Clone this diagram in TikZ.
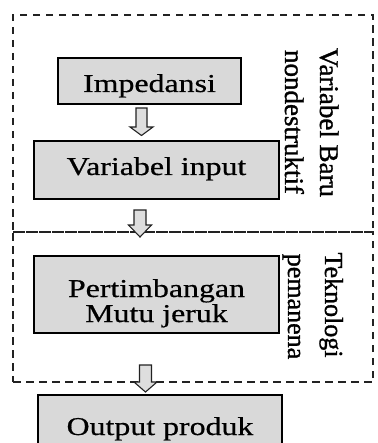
\documentclass[tikz,border=0pt]{standalone}
\usepackage{fontspec}
\setmainfont{Liberation Serif}
\newfontfamily\boxfont[FakeBold=0.5]{Liberation Serif}
\newfontfamily\labfont[FakeBold=1.2]{Liberation Serif}
\usepackage{graphicx}
\definecolor{boxgray}{HTML}{D9D9D9}
\definecolor{arrgray}{HTML}{DEDEDE}
\definecolor{linegray}{HTML}{222222}
\newcommand{\htext}[2]{\raisebox{-#1pt}[0pt][0pt]{\scalebox{1.24}[1]{#2}}}
\tikzset{
  box/.style={draw=black, line width=1.2pt, fill=boxgray, inner sep=0pt,
    font=\boxfont\fontsize{25.7pt}{24pt}\selectfont},
  group/.style={draw=linegray, line width=1.6pt, dash pattern=on 7.5pt off 5.5pt,
    inner sep=0pt},
  vlabel/.style={rotate=-90, anchor=base, inner sep=0pt},
  arrowst/.style={draw=linegray, line width=1.1pt, fill=arrgray, line join=miter},
  pics/blockarr/.style n args={4}{code={
    \draw[arrowst] (-#1,0) -- (#1,0) -- (#1,#3) -- (#2,#3) -- (0,#4)
      -- (-#2,#3) -- (-#1,#3) -- cycle;}}
}
\begin{document}
\begin{tikzpicture}[x=1pt, y=-1pt]
  \clip (0,0) rectangle (377,443);
  % dashed groups
  \node[group, minimum width=360pt, minimum height=217pt] (g1) at (193,123.5) {};
  \node[group, minimum width=360pt, minimum height=150pt] (g2) at (193,307) {};
  % boxes
  \node[box, minimum width=183pt, minimum height=46pt] (imp) at (149.5,81)
    {\htext{11}{Impedansi}};
  \node[box, minimum width=245pt, minimum height=58pt] (var) at (156.5,170)
    {\htext{5}{Variabel input}};
  \node[box, minimum width=245pt, minimum height=77pt] (mutu) at (156.5,294.5)
    {\htext{2.5}{\begin{tabular}[t]{@{}c@{}}Pertimbangan\\Mutu jeruk\end{tabular}}};
  \node[box, minimum width=244pt, minimum height=70pt] (out) at (160,430)
    {\htext{5}{Output produk}};
  % arrows
  \pic (a1) at (141.5,108) {blockarr={5.5}{11.5}{19}{27.5}};
  \pic (a2) at (140,210) {blockarr={6}{11.5}{15}{27}};
  \pic (a3) at (145.5,365) {blockarr={6}{11.5}{17}{27}};
  % vertical labels
  \node[vlabel, font=\labfont\fontsize{27pt}{27pt}\selectfont] (l1) at (320,122.5) {Variabel Baru};
  \node[vlabel, font=\labfont\fontsize{27pt}{27pt}\selectfont] (l2) at (285,122) {nondestruktif};
  \node[vlabel, font=\labfont\fontsize{26pt}{26pt}\selectfont] (l3) at (325,305) {Teknologi};
  \node[vlabel, font=\labfont\fontsize{26pt}{26pt}\selectfont] (l4) at (288,306.5) {pemanena};
\end{tikzpicture}
\end{document}
